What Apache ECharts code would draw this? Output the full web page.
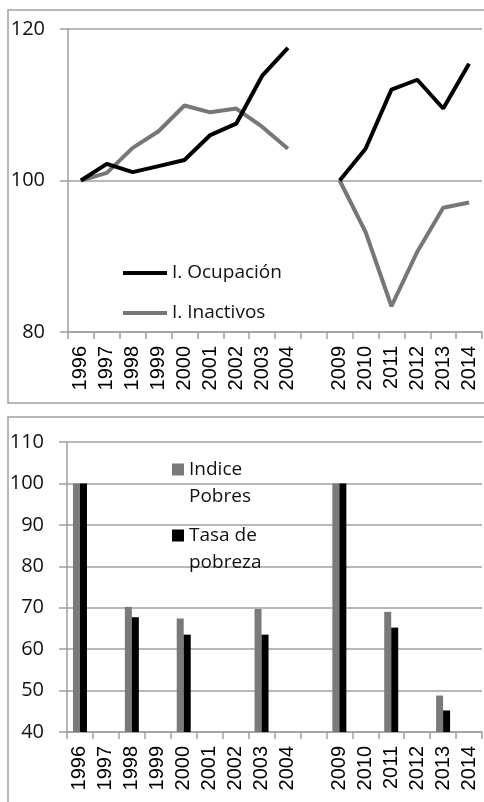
<!DOCTYPE html>
<html>
<head>
<meta charset="utf-8">
<script src="https://cdn.jsdelivr.net/npm/echarts@6/dist/echarts.min.js"></script>
<style>
  html, body { margin: 0; padding: 0; background: #fff; }
  #chart { width: 484px; height: 802px; }
</style>
</head>
<body>
<div id="chart"></div>
<script type="text/javascript">
    // categories (blank slot between the two periods)
    var years = ['1996','1997','1998','1999','2000','2001','2002','2003','2004','',
                 '2009','2010','2011','2012','2013','2014'];

    // top chart: indices (1996 = 100, 2009 = 100)
    var ocupacion = [100, 102.2, 101.1, 101.9, 102.7, 106.0, 107.5, 113.8, 117.5, null,
                     100, 104.2, 112.0, 113.3, 109.5, 115.4];
    var inactivos = [100, 101.0, 104.3, 106.5, 109.9, 109.0, 109.5, 107.1, 104.2, null,
                     100, 93.2, 83.4, 90.6, 96.4, 97.1];

    // bottom chart: poverty
    var indicePobres = [100, null, 70.2, null, 67.4, null, null, 69.7, null, null,
                        100, null, 69.0, null, 48.8, null];
    var tasaPobreza = [100, null, 67.7, null, 63.5, null, null, 63.5, null, null,
                       100, null, 65.2, null, 45.2, null];

    var gridGray = '#a0a0a0';
    var sansY = '"Open Sans", Lato, sans-serif';
    var sansX = '"Liberation Sans", Arial, sans-serif';

    var myChart = echarts.init(document.getElementById('chart'));

    function xAxisFor(gi) {
        return {
            type: 'category',
            gridIndex: gi,
            data: years,
            boundaryGap: true,
            axisLine: { lineStyle: { color: gridGray, width: 1.5 } },
            axisTick: { show: true, interval: 0, length: 7, lineStyle: { color: gridGray, width: 1.5 } },
            axisLabel: { interval: 0, rotate: 90, margin: 14, color: '#000',
                         fontFamily: sansX, fontSize: 20 },
            splitLine: { show: false }
        };
    }

    function yAxisFor(gi, min, max, step) {
        return {
            type: 'value',
            gridIndex: gi,
            min: min, max: max, interval: step,
            axisLine: { show: true, lineStyle: { color: gridGray, width: 1.5 } },
            axisTick: { show: true, length: 8, lineStyle: { color: gridGray, width: 1.5 } },
            axisLabel: { margin: 23, color: '#111', fontFamily: sansY, fontSize: 20 },
            splitLine: { show: true, lineStyle: { color: gridGray, width: 1.5 } }
        };
    }

    var option = {
        animation: false,
        backgroundColor: '#fff',
        graphic: [
            { type: 'rect', shape: { x: 8, y: 10, width: 520, height: 393 },
              style: { fill: 'none', stroke: gridGray, lineWidth: 1.5 }, z: 0 },
            { type: 'rect', shape: { x: 8, y: 417, width: 520, height: 420 },
              style: { fill: 'none', stroke: gridGray, lineWidth: 1.5 }, z: 0 }
        ],
        grid: [
            { left: 68, top: 29, width: 414, height: 303 },
            { left: 67, top: 442, width: 415, height: 290 }
        ],
        xAxis: [xAxisFor(0), xAxisFor(1)],
        yAxis: [yAxisFor(0, 80, 120, 20), yAxisFor(1, 40, 110, 10)],
        legend: [
            {
                data: [{ name: 'I. Ocupación', icon: 'rect' }, { name: 'I. Inactivos', icon: 'rect' }],
                orient: 'vertical',
                left: 123, top: 260, padding: 0,
                itemWidth: 44, itemHeight: 4, itemGap: 14,
                textStyle: { color: '#111', fontFamily: sansY, fontSize: 19, lineHeight: 26 }
            },
            {
                data: [{ name: 'Indice Pobres', icon: 'rect' }],
                left: 172, top: 429, padding: 0,
                itemWidth: 12, itemHeight: 12,
                formatter: function () { return '\nIndice\nPobres'; },
                textStyle: { color: '#111', fontFamily: sansY, fontSize: 19, lineHeight: 27 }
            },
            {
                data: [{ name: 'Tasa de pobreza', icon: 'rect' }],
                left: 172, top: 495, padding: 0,
                itemWidth: 12, itemHeight: 12,
                formatter: function () { return '\nTasa de\npobreza'; },
                textStyle: { color: '#111', fontFamily: sansY, fontSize: 19, lineHeight: 27 }
            }
        ],
        series: [
            {
                name: 'I. Ocupación', type: 'line', xAxisIndex: 0, yAxisIndex: 0,
                data: ocupacion, symbol: 'none', showSymbol: false, connectNulls: false,
                color: '#000', lineStyle: { color: '#000', width: 4 }, z: 3
            },
            {
                name: 'I. Inactivos', type: 'line', xAxisIndex: 0, yAxisIndex: 0,
                data: inactivos, symbol: 'none', showSymbol: false, connectNulls: false,
                color: '#777', lineStyle: { color: '#777', width: 4 }, z: 2
            },
            {
                name: 'Indice Pobres', type: 'bar', xAxisIndex: 1, yAxisIndex: 1,
                data: indicePobres, barWidth: 7, barGap: '0%',
                itemStyle: { color: '#7a7a7a' }
            },
            {
                name: 'Tasa de pobreza', type: 'bar', xAxisIndex: 1, yAxisIndex: 1,
                data: tasaPobreza, barWidth: 7, barGap: '0%',
                itemStyle: { color: '#000' }
            }
        ]
    };

    myChart.setOption(option);
</script>
</body>
</html>
